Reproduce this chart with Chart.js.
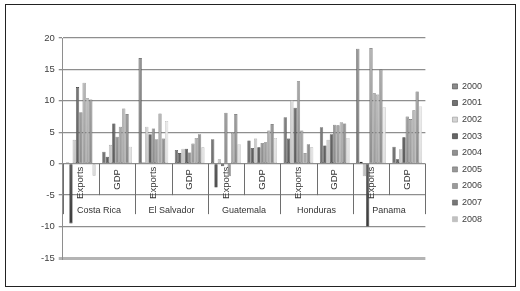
<!DOCTYPE html>
<html>
<head>
<meta charset="utf-8">
<script src="https://cdn.jsdelivr.net/npm/chart.js@4.4.0/dist/chart.umd.min.js"></script>
<style>
  html, body { margin: 0; padding: 0; background: #fff; }
  #frame { position: absolute; left: 5px; top: 4px; width: 509px; height: 281px; border: 1px solid #222; }
  #wrap { position: absolute; left: 0; top: 0; width: 520px; height: 291px; }
</style>
</head>
<body>
<div id="frame"></div>
<div id="wrap"><canvas id="chart"></canvas></div>
<script>
// Categories: each country has an Exports and a GDP column
const countries = ['Costa Rica', 'El Salvador', 'Guatemala', 'Honduras', 'Panama'];
const categories = ['Exports', 'GDP', 'Exports', 'GDP', 'Exports', 'GDP', 'Exports', 'GDP', 'Exports', 'GDP'];
const years = ['2000', '2001', '2002', '2003', '2004', '2005', '2006', '2007', '2008'];

// Growth values per year, in category order (CR-E, CR-G, ES-E, ES-G, GT-E, GT-G, HN-E, HN-G, PA-E, PA-G)
const d2000 = [0.2, 1.9, 16.8, 2.2, 3.9, 3.7, 7.4, 5.8, 18.3, 2.7];
const d2001 = [-9.5, 1.1, 0.2, 1.7, -3.8, 2.5, 4.0, 2.9, 0.3, 0.7];
const d2002 = [3.8, 3.0, 5.9, 2.4, 0.7, 4.0, 10.1, 3.8, -2.0, 2.3];
const d2003 = [12.2, 6.4, 4.7, 2.4, -0.4, 2.6, 8.9, 4.7, -10.0, 4.2];
const d2004 = [8.2, 4.3, 5.6, 1.8, 8.1, 3.3, 13.1, 6.2, 18.4, 7.5];
const d2005 = [12.9, 5.9, 3.9, 3.2, -2.0, 3.4, 5.3, 6.1, 11.2, 7.1];
const d2006 = [10.4, 8.8, 8.0, 4.1, 4.9, 5.3, 1.7, 6.6, 11.0, 8.5];
const d2007 = [10.2, 7.9, 4.0, 4.7, 7.9, 6.3, 3.1, 6.4, 15.0, 11.5];
const d2008 = [-1.9, 2.7, 6.8, 2.6, 3.1, 4.1, 2.6, 4.1, 9.0, 9.1];
const series = [d2000, d2001, d2002, d2003, d2004, d2005, d2006, d2007, d2008];

// grey shades per year (legend swatches)
const shades = [112, 92, 196, 92, 140, 154, 166, 138, 222];

function grey(v) {
    v = Math.max(0, Math.min(255, Math.round(v)));
    return 'rgb(' + v + ',' + v + ',' + v + ')';
}

// vertical gradient: lighter at the top of the plot, darker at the bottom
function barFill(base) {
    return (context) => {
        const { ctx, chartArea } = context.chart;
        if (!chartArea) return grey(base);
        const g = ctx.createLinearGradient(0, chartArea.top, 0, chartArea.bottom);
        g.addColorStop(0, grey(base + 45));
        g.addColorStop(0.58, grey(base));
        g.addColorStop(1, grey(base - 50));
        return g;
    };
}

const FONT = 'Liberation Sans, Arial, sans-serif';

// draws the two-level category table below the zero line
const tablePlugin = {
    id: 'table',
    beforeDatasetsDraw(chart) {
        const { ctx } = chart;
        const x = chart.scales.x;
        const y = chart.scales.y;
        const y0 = y.getPixelForValue(0);
        const y5 = y.getPixelForValue(-5);
        const half = (x.getPixelForValue(1) - x.getPixelForValue(0)) / 2;
        const n = categories.length;

        ctx.save();
        ctx.strokeStyle = '#6e6e6e';
        ctx.lineWidth = 1;
        for (let i = 0; i <= n; i++) {
            const px = Math.round(x.getPixelForValue(Math.min(i, n - 1)) + (i < n ? -half : half)) + 0.5;
            const bottom = i % 2 === 0 ? y5 + 19 : y5;
            ctx.beginPath();
            ctx.moveTo(px, y0);
            ctx.lineTo(px, bottom);
            ctx.stroke();
        }

        ctx.fillStyle = '#333';
        ctx.font = '9.5px ' + FONT;
        ctx.textBaseline = 'middle';
        categories.forEach((c, i) => {
            const w = ctx.measureText(c).width;
            let top = (y0 + y5) / 2 - w / 2;
            if (top < y0 + 3) top = y0 + 3;
            ctx.save();
            ctx.translate(x.getPixelForValue(i), top);
            ctx.rotate(-Math.PI / 2);
            ctx.textAlign = 'right';
            ctx.fillText(c, 0, 0);
            ctx.restore();
        });

        ctx.font = '9px ' + FONT;
        ctx.textAlign = 'center';
        countries.forEach((c, i) => {
            const cx = (x.getPixelForValue(2 * i) + x.getPixelForValue(2 * i + 1)) / 2;
            ctx.fillText(c, cx, y5 + 15);
        });
        ctx.restore();
    }
};

const ctx = document.getElementById('chart').getContext('2d');
new Chart(ctx, {
    type: 'bar',
    data: {
        labels: categories,
        datasets: years.map((yr, i) => ({
            label: yr,
            data: series[i],
            backgroundColor: barFill(shades[i]),
            borderColor: grey(shades[i] - 45),
            borderWidth: 0.6,
            borderSkipped: false,
            barPercentage: 1.0,
            categoryPercentage: 0.82
        }))
    },
    options: {
        responsive: true,
        maintainAspectRatio: false,
        animation: false,
        layout: { padding: { left: 37, top: 38, bottom: 33, right: 28 } },
        scales: {
            x: { display: false },
            y: {
                min: -15,
                max: 20,
                ticks: {
                    stepSize: 5,
                    padding: 4,
                    color: '#404040',
                    font: { size: 9.5, family: FONT }
                },
                grid: {
                    color: (c) => c.tick && c.tick.value === -15 ? '#b4b4b4' : '#8e8e8e',
                    lineWidth: (c) => c.tick && c.tick.value === -15 ? 3 : 1.3,
                    tickLength: 4
                },
                border: { color: '#8e8e8e', width: 1 }
            },
            gap: {
                type: 'linear',
                position: 'right',
                display: true,
                grid: { display: false },
                ticks: { display: false },
                border: { display: false },
                afterFit(scale) { scale.width = 19.5; }
            }
        },
        plugins: {
            legend: {
                position: 'right',
                title: { display: true, text: ' ', padding: 0, font: { size: 8 } },
                labels: {
                    boxWidth: 5,
                    boxHeight: 5,
                    padding: 7.6,
                    color: '#404040',
                    font: { size: 9, family: FONT }
                }
            },
            tooltip: { enabled: false }
        }
    },
    plugins: [tablePlugin]
});
</script>
</body>
</html>
